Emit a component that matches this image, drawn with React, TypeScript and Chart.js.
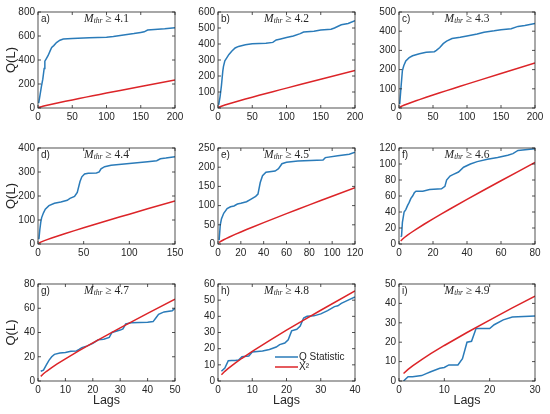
import React, { useEffect, useRef } from "react";
import { Chart, registerables } from "chart.js";
Chart.register(...registerables);

// chi-square critical values (0.05) per lag
const chiLags = [1, 2, 3, 5, 7, 10, 15, 20, 25, 30, 40, 50, 60, 70, 80, 90, 100, 120, 150, 200];
const chiVals = [3.84, 5.99, 7.81, 11.07, 14.07, 18.31, 25.0, 31.41, 37.65, 43.77, 55.76, 67.5, 79.08, 90.53, 101.88, 113.15, 124.34, 146.57, 179.58, 233.99];

// Q statistic curves
const qALags = [1, 3, 5, 7, 9, 10, 12, 15, 18, 20, 23, 27, 32, 37, 50, 75, 100, 110, 120, 130, 140, 150, 155, 160, 170, 185, 200];
const qAVals = [40, 110, 180, 240, 330, 390, 410, 440, 480, 505, 520, 545, 565, 575, 580, 585, 590, 595, 605, 612, 620, 630, 635, 650, 655, 660, 668];

const qBLags = [1, 3, 5, 7, 8, 10, 13, 16, 20, 25, 30, 40, 50, 70, 80, 85, 90, 100, 110, 120, 125, 140, 150, 165, 170, 180, 190, 200];
const qBVals = [20, 70, 140, 230, 260, 295, 315, 335, 355, 375, 385, 395, 402, 405, 410, 425, 430, 440, 450, 465, 475, 480, 487, 492, 500, 520, 528, 545];

const qCLags = [1, 3, 5, 7, 10, 15, 20, 30, 40, 52, 55, 60, 65, 70, 78, 90, 100, 115, 125, 140, 150, 165, 175, 185, 200];
const qCVals = [20, 110, 195, 220, 245, 262, 272, 283, 290, 293, 300, 315, 335, 348, 362, 368, 375, 385, 395, 402, 408, 413, 425, 430, 440];

const qDLags = [1, 2, 3, 4, 6, 8, 12, 18, 25, 32, 35, 40, 43, 46, 48, 51, 55, 64, 67, 69, 73, 80, 100, 120, 130, 134, 140, 150];
const qDVals = [20, 60, 90, 110, 130, 145, 160, 170, 175, 182, 190, 198, 215, 260, 280, 292, 295, 296, 300, 313, 322, 328, 335, 343, 347, 355, 358, 364];

const qELags = [1, 2, 3, 5, 8, 11, 14, 17, 20, 25, 29, 33, 35, 37, 39, 42, 50, 53, 56, 60, 70, 92, 94, 105, 115, 120];
const qEVals = [10, 50, 65, 80, 92, 97, 99, 104, 106, 110, 117, 124, 130, 160, 178, 187, 190, 196, 209, 213, 216, 219, 225, 230, 234, 239];

const qFLags = [1, 1.5, 2, 3, 4, 5, 6, 7, 8, 9, 10, 14, 18, 25, 27, 28, 30, 32, 35, 38, 42, 46, 52, 58, 64, 67, 70, 80];
const qFVals = [9, 10, 27, 40, 43, 48, 52, 57, 60, 64, 66, 66, 68, 69, 72, 80, 85, 87, 90, 96, 100, 103, 106, 108, 111, 113, 117, 119];

const qGLags = [1, 2, 3, 4, 5, 6, 8, 10, 12, 14, 15, 16, 18, 20, 22, 24, 26, 27, 30, 31, 32, 34, 40, 42, 43, 44, 46, 49, 50];
const qGVals = [8, 9, 13, 17, 20, 22, 23, 23.5, 24.5, 24.8, 26, 27.5, 29, 31, 34, 34.5, 36, 40, 42, 43, 47, 48, 48.5, 49, 52, 55, 57, 58, 60];

const qHLags = [1, 2, 3, 4, 5, 6, 7, 9, 10, 13, 15, 17, 18, 19.5, 20.5, 21.5, 23, 24, 25, 26, 28, 30, 32, 34, 35, 36, 38, 40];
const qHVals = [6, 8, 12.5, 12.7, 12.7, 13, 15, 15.5, 18, 18.5, 19.5, 21, 22.5, 23.5, 25.5, 31, 32, 34, 39, 40, 40.3, 41.5, 43.5, 46, 46.5, 48, 50, 52];

const qILags = [1, 2, 3, 5, 6, 7, 9, 10, 11, 13, 14, 15, 16, 17, 20, 21, 23, 25, 30];
const qIVals = [0, 2.2, 2.2, 2.8, 3.8, 4.8, 6.6, 7, 8.3, 8.3, 11.5, 20, 20.5, 27, 27, 29, 31.5, 33, 33.5];

const panelLetters = ["a)", "b)", "c)", "d)", "e)", "f)", "g)", "h)", "i)"];
const thresholds = ["4.1", "4.2", "4.3", "4.4", "4.5", "4.6", "4.7", "4.8", "4.9"];
const xMaxes = [200, 200, 200, 150, 120, 80, 50, 40, 30];
const xSteps = [50, 50, 50, 50, 20, 20, 10, 10, 10];
const yMaxes = [800, 600, 500, 400, 250, 120, 80, 60, 50];
const ySteps = [200, 100, 100, 100, 50, 20, 20, 10, 10];
const seriesLabels = ["Q Statistic", "X\u00B2"];

const qLags = [qALags, qBLags, qCLags, qDLags, qELags, qFLags, qGLags, qHLags, qILags];
const qVals = [qAVals, qBVals, qCVals, qDVals, qEVals, qFVals, qGVals, qHVals, qIVals];

const BLUE = "#2a7bb9";
const RED = "#dc2428";
const INK = "#262626";

const cols = [
  { cl: 0, l: 38, r: 175 },
  { cl: 180, l: 218, r: 355 },
  { cl: 360, l: 399, r: 535 },
];
const rows = [
  { t: 11, b: 108, xh: 22 },
  { t: 147, b: 244, xh: 22 },
  { t: 283, b: 381, xh: 33 },
];

const framePlugin = {
  id: "frame",
  afterDatasetsDraw(chart: any, _args: any, opts: any) {
    const { ctx, chartArea: a, scales } = chart;
    ctx.save();
    ctx.strokeStyle = INK;
    ctx.lineWidth = 0.8;
    ctx.strokeRect(a.left, a.top, a.right - a.left, a.bottom - a.top);
    const tl = 3;
    ctx.beginPath();
    scales.x.ticks.forEach((t: any) => {
      const px = scales.x.getPixelForValue(t.value);
      ctx.moveTo(px, a.bottom);
      ctx.lineTo(px, a.bottom - tl);
      ctx.moveTo(px, a.top);
      ctx.lineTo(px, a.top + tl);
    });
    scales.y.ticks.forEach((t: any) => {
      const py = scales.y.getPixelForValue(t.value);
      ctx.moveTo(a.left, py);
      ctx.lineTo(a.left + tl, py);
      ctx.moveTo(a.right, py);
      ctx.lineTo(a.right - tl, py);
    });
    ctx.stroke();

    // panel letter
    ctx.fillStyle = INK;
    ctx.textBaseline = "middle";
    ctx.textAlign = "left";
    ctx.font = "10px 'Liberation Sans', Arial, sans-serif";
    ctx.fillText(opts.letter, a.left + 3, a.top + 7);

    // title M_thr >= x
    const mFont = "italic 11.5px 'Liberation Serif', 'Times New Roman', serif";
    const sFont = "italic 7.5px 'Liberation Serif', 'Times New Roman', serif";
    const rFont = "11.5px 'Liberation Serif', 'Times New Roman', serif";
    const rest = " \u2265 " + opts.thr;
    ctx.font = mFont;
    const wM = ctx.measureText("M").width;
    ctx.font = sFont;
    const wS = ctx.measureText("thr").width;
    ctx.font = rFont;
    const wR = ctx.measureText(rest).width;
    const total = wM + wS + wR;
    let x = (a.left + a.right) / 2 - total / 2;
    const y = a.top + 7;
    ctx.font = mFont;
    ctx.fillText("M", x, y);
    x += wM;
    ctx.font = sFont;
    ctx.fillText("thr", x, y + 2);
    x += wS;
    ctx.font = rFont;
    ctx.fillText(rest, x, y);

    if (opts.legend) {
      chart.data.datasets.forEach((d: any, i: number) => {
        const ly = a.bottom - 24 + i * 10;
        ctx.strokeStyle = d.borderColor;
        ctx.lineWidth = 1.5;
        ctx.beginPath();
        ctx.moveTo(a.right - 80, ly);
        ctx.lineTo(a.right - 57, ly);
        ctx.stroke();
        ctx.fillStyle = INK;
        ctx.font = "10px 'Liberation Sans', Arial, sans-serif";
        ctx.fillText(d.label, a.right - 56, ly);
      });
    }
    ctx.restore();
  },
};

function Panel({ idx }: { idx: number }) {
  const ref = useRef<HTMLCanvasElement>(null);
  const col = cols[idx % 3];
  const row = rows[Math.floor(idx / 3)];
  const cr = Math.min(col.r + 13, 550);
  const width = cr - col.cl;
  const height = 8 + (row.b - row.t) + row.xh;
  const leftCol = idx % 3 === 0;
  const bottomRow = idx >= 6;

  useEffect(() => {
    if (!ref.current) return;
    const xMax = xMaxes[idx];
    const blue = qLags[idx].map((x, i) => ({ x, y: qVals[idx][i] }));
    const red = chiLags.filter((l) => l <= xMax).map((l, i) => ({ x: l, y: chiVals[i] }));
    const tickFont = { family: "'Liberation Sans', Arial, sans-serif", size: 10 };
    const chart = new Chart(ref.current, {
      type: "line",
      data: {
        datasets: [
          { label: seriesLabels[0], data: blue, borderColor: BLUE, borderWidth: 1.5, pointRadius: 0, tension: 0, order: 1 },
          { label: seriesLabels[1], data: red, borderColor: RED, borderWidth: 1.5, pointRadius: 0, tension: 0, order: 0 },
        ],
      },
      options: {
        animation: false,
        responsive: false,
        events: [],
        layout: { padding: { top: 8, right: cr - col.r, bottom: 0, left: 0 } },
        plugins: {
          legend: { display: false },
          tooltip: { enabled: false },
          frame: { letter: panelLetters[idx], thr: thresholds[idx], legend: idx === 7 },
        } as any,
        scales: {
          x: {
            type: "linear",
            min: 0,
            max: xMax,
            grid: { display: false, drawTicks: false },
            border: { display: false },
            ticks: { stepSize: xSteps[idx], autoSkip: false, maxRotation: 0, padding: 3, color: INK, font: tickFont },
            title: {
              display: bottomRow,
              text: "Lags",
              color: INK,
              font: { family: "'Liberation Sans', Arial, sans-serif", size: 12.5 },
              padding: { top: 0, bottom: 6 },
            },
            afterFit: (s: any) => {
              s.height = row.xh;
            },
          },
          y: {
            type: "linear",
            min: 0,
            max: yMaxes[idx],
            grid: { display: false, drawTicks: false },
            border: { display: false },
            ticks: { stepSize: ySteps[idx], autoSkip: false, padding: 3, color: INK, font: tickFont },
            title: {
              display: leftCol,
              text: "Q(L)",
              color: INK,
              font: { family: "'Liberation Sans', Arial, sans-serif", size: 13 },
              padding: { top: 4, bottom: 0 },
            },
            afterFit: (s: any) => {
              s.width = col.l - col.cl;
            },
          },
        },
      },
      plugins: [framePlugin],
    } as any);
    return () => chart.destroy();
  }, [idx]);

  return (
    <canvas
      ref={ref}
      width={width}
      height={height}
      style={{ position: "absolute", left: col.cl, top: row.t - 8, width, height }}
    />
  );
}

export default function App() {
  return (
    <div style={{ position: "absolute", left: 0, top: 0, width: 550, height: 414, background: "#fff", overflow: "hidden" }}>
      {panelLetters.map((_, i) => (
        <Panel key={i} idx={i} />
      ))}
    </div>
  );
}
